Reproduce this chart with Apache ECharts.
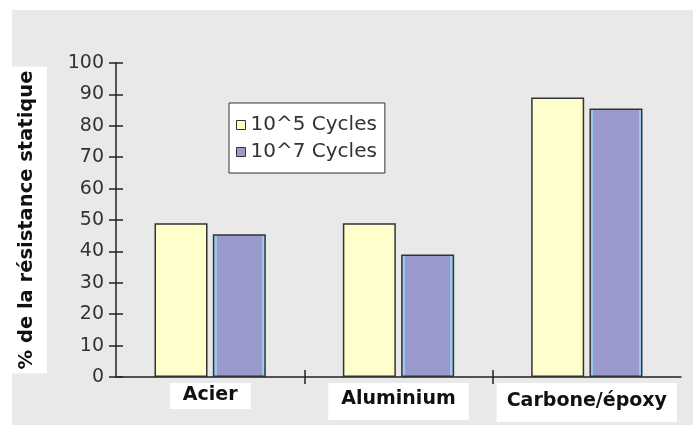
<!DOCTYPE html>
<html>
<head>
<meta charset="utf-8">
<script src="https://cdn.jsdelivr.net/npm/echarts@6/dist/echarts.min.js"></script>
<style>html,body{margin:0;padding:0;background:#fff}#c{width:693px;height:425px}</style>
</head>
<body>
<div id="c"></div>
<script>
var categories = ['Acier', 'Aluminium', 'Carbone/époxy'];
var seriesNames = ['10^5 Cycles', '10^7 Cycles'];
var cycles5 = [49, 49, 89];
var cycles7 = [45.5, 39, 85.5];
var yTicks = [0, 10, 20, 30, 40, 50, 60, 70, 80, 90, 100];
var yTitle = '% de la résistance statique';

var chart = echarts.init(document.getElementById('c'), null, {renderer: 'canvas'});
var blueFill = new echarts.graphic.LinearGradient(0, 0, 1, 0, [
  {offset: 0, color: '#9fc8f0'}, {offset: 0.07, color: '#9fc8f0'},
  {offset: 0.07, color: '#9999cc'}, {offset: 0.93, color: '#9999cc'},
  {offset: 0.93, color: '#9fc8f0'}, {offset: 1, color: '#9fc8f0'}
]);
var richKeys = ['a', 'b', 'c'];
var yMin = yTicks[0], yMax = yTicks[yTicks.length - 1];
var option = {
  backgroundColor: '#ffffff',
  animation: false,
  graphic: [{
    type: 'rect', z: -10, silent: true,
    shape: {x: 12, y: 10, width: 681, height: 415},
    style: {fill: '#e9e9e9'}
  }],
  grid: {left: 114, right: 12, top: 63, bottom: 48},
  legend: {
    orient: 'vertical', left: 229, top: 103,
    backgroundColor: '#ffffff', borderColor: '#333333', borderWidth: 1,
    padding: [12, 8, 11, 7], itemGap: 7, itemWidth: 9, itemHeight: 9,
    icon: 'rect',
    textStyle: {fontFamily: 'DejaVu Sans', fontSize: 20, color: '#333333'},
    data: [
      {name: seriesNames[0], itemStyle: {color: '#ffffcc', borderColor: '#333', borderWidth: 1}},
      {name: seriesNames[1], itemStyle: {color: '#9999cc', borderColor: '#333', borderWidth: 1}}
    ]
  },
  xAxis: [{
    type: 'category', data: categories,
    axisLine: {lineStyle: {color: '#222', width: 1.5}},
    axisTick: {show: false},
    axisLabel: {
      margin: 6,
      formatter: function (v, i) { return '{' + richKeys[i] + '|' + v + '}'; },
      rich: {
        a: {fontFamily: 'DejaVu Sans', fontWeight: 'bold', fontSize: 19, color: '#111', backgroundColor: '#fff', padding: [3, 13, 4, 13]},
        b: {fontFamily: 'DejaVu Sans', fontWeight: 'bold', fontSize: 19, color: '#111', backgroundColor: '#fff', padding: [7, 13, 11, 13]},
        c: {fontFamily: 'DejaVu Sans', fontWeight: 'bold', fontSize: 19, color: '#111', backgroundColor: '#fff', padding: [9, 10, 11, 10]}
      }
    }
  }, {
    type: 'value', min: 0, max: 3, position: 'bottom',
    axisLine: {show: false}, axisLabel: {show: false}, splitLine: {show: false},
    axisTick: {show: true, customValues: [1, 2], length: 7, lineStyle: {color: '#222', width: 1.5}}
  }, {
    type: 'value', min: 0, max: 3, position: 'bottom',
    axisLine: {show: false}, axisLabel: {show: false}, splitLine: {show: false},
    axisTick: {show: true, inside: true, customValues: [1, 2], length: 7, lineStyle: {color: '#222', width: 1.5}}
  }],
  yAxis: [{
    type: 'value', min: yMin, max: yMax, interval: 10, offset: 5,
    name: yTitle, nameLocation: 'middle', nameRotate: 90, nameGap: 64,
    nameTextStyle: {fontFamily: 'DejaVu Sans', fontWeight: 'bold', fontSize: 19.5, color: '#111',
      backgroundColor: '#fff', padding: [9, 4, 10, 4]},
    axisLine: {show: true, lineStyle: {color: '#222', width: 1.5}},
    axisTick: {show: true, length: 7, lineStyle: {color: '#222', width: 1.5}},
    axisLabel: {margin: 7, fontFamily: 'DejaVu Sans', fontSize: 19, color: '#333'},
    splitLine: {show: false}
  }, {
    type: 'value', min: yMin, max: yMax, interval: 10, offset: 5, position: 'left',
    axisLine: {show: false}, axisLabel: {show: false}, splitLine: {show: false},
    axisTick: {show: true, inside: true, length: 7, lineStyle: {color: '#222', width: 1.5}}
  }],
  series: [{
    name: seriesNames[0], type: 'bar', data: cycles5,
    barWidth: 53, barGap: '10%',
    itemStyle: {color: '#ffffcc', borderColor: '#333', borderWidth: 1.5}
  }, {
    name: seriesNames[1], type: 'bar', data: cycles7,
    barWidth: 53, barGap: '10%',
    itemStyle: {color: blueFill, borderColor: '#333', borderWidth: 1.5}
  }]
};
chart.setOption(option);
</script>
</body>
</html>
